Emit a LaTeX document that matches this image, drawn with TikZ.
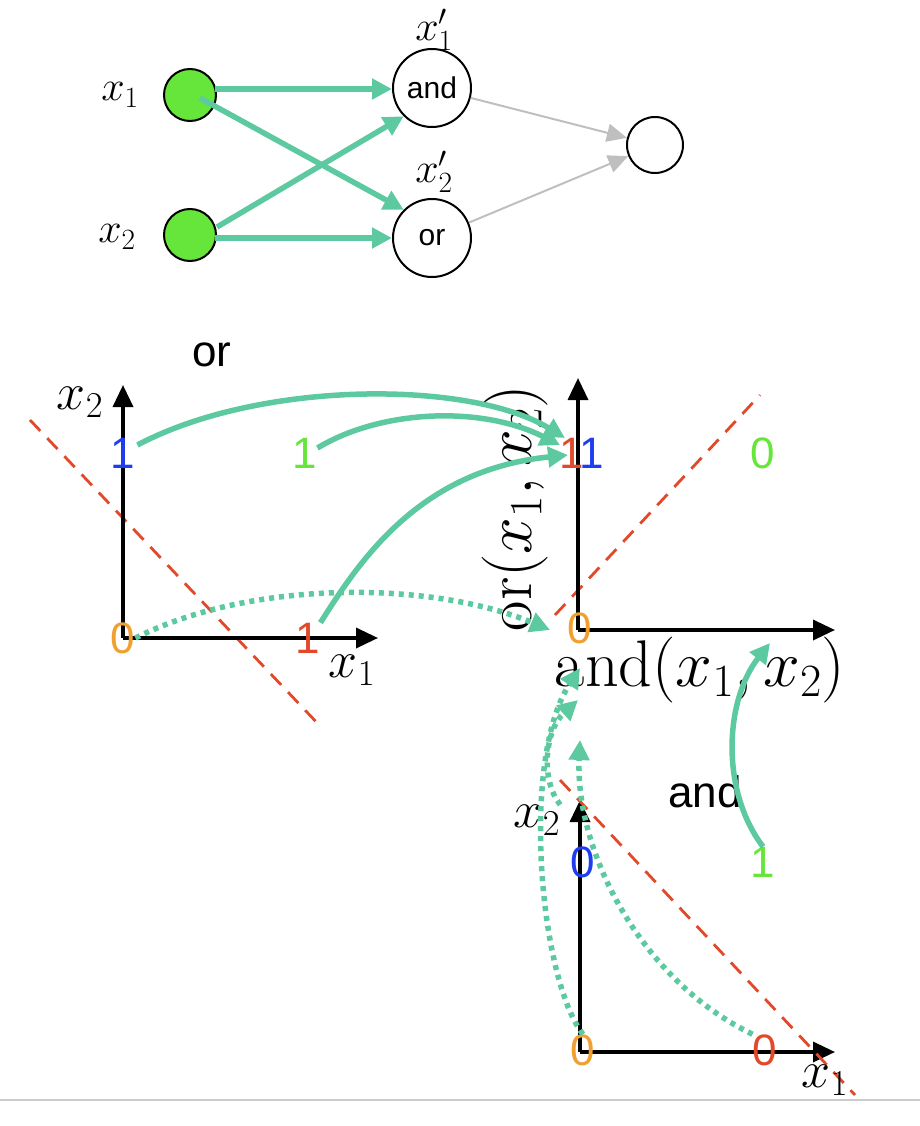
\documentclass[tikz,border=0pt]{standalone}
\usepackage{fix-cm}
\usepackage{fontspec}
\setsansfont{Liberation Sans}
\usetikzlibrary{arrows.meta}
\definecolor{tl}{HTML}{5CC9A0}
\definecolor{ng}{HTML}{66E63A}
\definecolor{nr}{HTML}{E2482A}
\definecolor{nb}{HTML}{1E3CF0}
\definecolor{no}{HTML}{F0A030}
\begin{document}
\begin{tikzpicture}[x=1pt,y=-1pt,
  neu/.style={circle,draw,line width=2pt,inner sep=0pt},
  ax/.style={line width=3.5pt,-{Triangle[length=22pt,width=20pt]}},
  tarr/.style={tl,line width=5.5pt,-{Triangle[length=20pt,width=20pt]}},
  darr/.style={tl,line width=5.5pt,dash pattern=on 5pt off 5pt,-{Triangle[length=20pt,width=20pt]}},
  garr/.style={gray!50,line width=2pt,-{Triangle[length=20pt,width=18pt]}},
  sep/.style={nr,line width=2.8pt,dash pattern=on 15pt off 10pt},
  num/.style={font=\sffamily\fontsize{44}{44}\selectfont,inner sep=0pt},
  bl/.style={font=\fontsize{52}{52}\selectfont,inner sep=0pt},
  big/.style={font=\fontsize{66}{66}\selectfont,inner sep=0pt},
  sl/.style={font=\fontsize{42}{42}\selectfont,inner sep=0pt},
  wl/.style={font=\sffamily\fontsize{44}{44}\selectfont,inner sep=0pt}]
\useasboundingbox (0,0) rectangle (920,1126);
% network
\node[neu,fill=ng,minimum size=52pt] (i1) at (190,95) {};
\node[neu,fill=ng,minimum size=52pt] (i2) at (190,235) {};
\node[neu,minimum size=78pt,font=\sffamily\fontsize{30}{30}\selectfont] (h1) at (432,88) {and};
\node[neu,minimum size=78pt,font=\sffamily\fontsize{30}{30}\selectfont] (h2) at (432,238) {or};
\node[neu,minimum size=56pt] (o) at (655,145) {};
\node[sl] (l1) at (120,95) {$x_1$};
\node[sl] (l2) at (117,237) {$x_2$};
\node[sl] (l3) at (434,30) {$x_1'$};
\node[sl] (l4) at (434,172) {$x_2'$};
\coordinate (s1) at (215,89);
\coordinate (s2) at (215,238);
\draw[tarr] (s1) -- (s1 -| h1.west);
\draw[tarr] (i1.center) ++(10,3) -- (h2.north west);
\draw[tarr] (i2.east) ++(0,-8) -- (h1.south west);
\draw[tarr] (s2) -- (s2 -| h2.west);
\draw[garr] (h1) -- (o);
\draw[garr] (h2) -- (o);
% left axes
\coordinate (A0) at (123,638);
\coordinate (Ay) at (123,385);
\coordinate (Ax) at (378,638);
\draw[sep] (30,420) -- (322,728);
\draw[ax] (A0) -- (Ay);
\draw[ax] (A0) -- (Ax);
\node[bl] (ax2) at (80,402) {$x_2$};
\node[bl] (ax1) at (352,670) {$x_1$};
\node[wl] (orl) at (212,355) {or};
\node[num,text=nb] (a01) at (123,453) {1};
\node[num,text=ng] (a11) at (305,453) {1};
\node[num,text=no] (a00) at (123,638) {0};
\node[num,text=nr] (a10) at (308,638) {1};
% right axes
\coordinate (B0) at (578,630);
\draw[sep] (555,615) -- (760,395);
\draw[ax] (B0) -- (578,378);
\draw[ax] (B0) -- (835,630);
\node[big,rotate=90] (orx) at (515,508) {$\mathrm{or}(x_1,x_2)$};
\node[big] (andx) at (700,670) {$\mathrm{and}(x_1,x_2)$};
\node[num,text=nr] (b11a) at (572,453) {1};
\node[num,text=nb] (b11b) at (592,453) {1};
\node[num,text=ng] (b10) at (763,453) {0};
\node[num,text=no] (b00) at (580,628) {0};
% bottom axes
\coordinate (C0) at (580,1052);
\draw[ax] (C0) -- (580,800);
\draw[ax] (C0) -- (835,1052);
\draw[sep] (560,780) -- (855,1095);
\node[bl] (cx2) at (537,820) {$x_2$};
\node[bl] (cx1) at (825,1080) {$x_1$};
\node[wl] (andl) at (705,792) {and};
\node[num,text=nb] (c01) at (583,862) {0};
\node[num,text=ng] (c11) at (763,862) {1};
\node[num,text=no] (c00) at (583,1050) {0};
\node[num,text=nr] (c10) at (765,1050) {0};
% arrows
\draw[tarr] (a01.east) ++(2,-8) .. controls (260,380) and (470,380) .. (565,438);
\draw[tarr] (a11.east) ++(0,-5) .. controls (380,410) and (480,405) .. (560,445);
\draw[tarr] (a10.north east) .. controls (360,560) and (420,470) .. (568,455);
\draw[darr] (a00.east) .. controls (250,580) and (430,580) .. (550,630);
\draw[tarr] (c11.north) .. controls (720,790) and (725,700) .. (770,643);
\draw[darr] (c00.north) .. controls (540,980) and (520,760) .. (580,668);
\draw[darr] (cx2.north east) .. controls (540,780) and (545,730) .. (578,700);
\draw[darr] (c10.north west) .. controls (640,980) and (575,850) .. (580,740);
% bottom rule
\draw[gray!40,line width=2pt] (0,1100) -- (920,1100);
\end{tikzpicture}
\end{document}
